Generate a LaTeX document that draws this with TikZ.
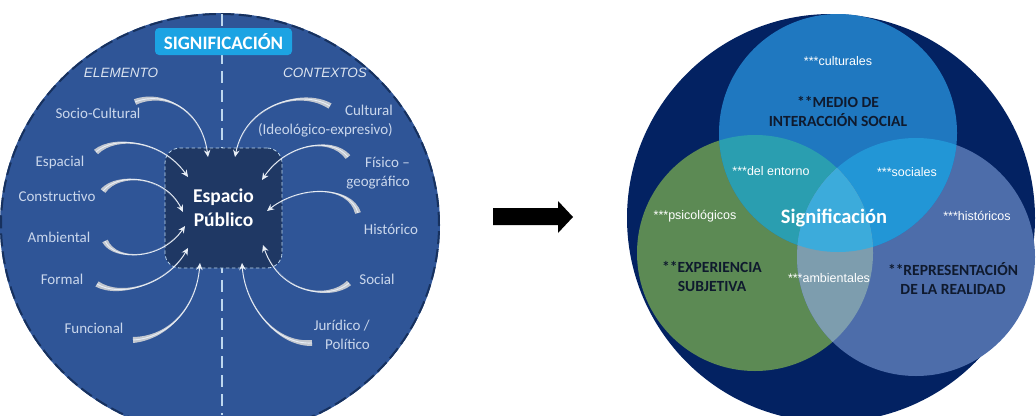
\documentclass[tikz,border=0pt]{standalone}
\usepackage{fontspec}
\setmainfont{Carlito}
\newfontfamily\arialfont{Liberation Sans}
\usetikzlibrary{calc,arrows.meta}

% palette
\definecolor{panelblue}{HTML}{2F5597}
\definecolor{rimnavy}{HTML}{17315E}
\definecolor{boxnavy}{HTML}{1F3864}
\definecolor{dividerblue}{HTML}{BDD7EE}
\definecolor{sigblue}{HTML}{1CA3E3}
\definecolor{labelgrey}{HTML}{CAD7EC}
\definecolor{headgrey}{HTML}{DCE4F0}
\definecolor{bodygrey}{HTML}{C3C8D0}
\definecolor{tipwhite}{HTML}{E8EEF6}
\definecolor{vnavy}{HTML}{032262}
\definecolor{vtop}{HTML}{1F78C0}
\definecolor{vgreen}{HTML}{5C8A54}
\definecolor{vright}{HTML}{4D6DAA}
\definecolor{vtopgreen}{HTML}{2A9EB0}
\definecolor{vtopright}{HTML}{2296D6}
\definecolor{vgreenright}{HTML}{7D9DAE}
\definecolor{vall}{HTML}{3CABDB}
\definecolor{darktext}{HTML}{0F1A2E}

% tapered curved arrow: start, control 1, control 2, end
\newcommand\taperarrow[4]{%
  \fill[arrowbody] ($(#1)!3pt!90:(#2)$)
     .. controls ($(#2)!1.4pt!-90:(#1)$) and (#3) .. (#4)
     .. controls (#3) and ($(#2)!1.4pt!90:(#1)$) .. ($(#1)!3pt!-90:(#2)$) -- cycle;
  \draw[arrowline] (#1) .. controls (#2) and (#3) .. (#4);
}

\begin{document}
\begin{tikzpicture}[x=1pt,y=-1pt,
  lbl/.style={text=labelgrey,font=\fontsize{15}{18.5}\selectfont,inner sep=0pt},
  head/.style={text=headgrey,font=\arialfont\itshape\fontsize{13.5}{16}\selectfont,inner sep=0pt},
  arrowbody/.style={fill=bodygrey},
  arrowline/.style={draw=tipwhite,line width=0.9pt,-{Stealth[length=7pt,width=6.5pt]}},
  small/.style={text=white,font=\arialfont\fontsize{12.5}{14}\selectfont,inner sep=0pt},
  bigcap/.style={text=darktext,font=\bfseries\fontsize{15.5}{19}\selectfont,align=center,inner sep=0pt},
]
\useasboundingbox (0,0) rectangle (1036,415);
\clip (0,0) rectangle (1036,415);

% ---------- left panel ----------
\fill[panelblue] (220,225) ellipse [x radius=220pt, y radius=212pt];
\draw[rimnavy,line width=2pt,dash pattern=on 13pt off 5pt] (220,225) ellipse [x radius=219pt, y radius=211pt];
\draw[dividerblue,line width=2.2pt,dash pattern=on 12pt off 7pt] (222,14) -- (222,415);

\node[fill=sigblue,rounded corners=4pt,minimum width=137pt,minimum height=27pt,inner sep=0pt,
      text=white,font=\bfseries\fontsize{19}{20}\selectfont] (sig) at (223.5,41.5) {SIGNIFICACIÓN};
\node[head] (elem) at (121,73) {ELEMENTO};
\node[head] (ctx) at (325,73) {CONTEXTOS};

\node[fill=boxnavy,draw=dividerblue,line width=0.8pt,dash pattern=on 3.5pt off 2.5pt,
      rounded corners=15pt,minimum width=117pt,minimum height=120pt,inner sep=0pt,
      text=white,align=center,font=\bfseries\fontsize{19.5}{24}\selectfont] (ep) at (223.5,208) {Espacio\\Público};

% element labels
\node[lbl] (socio) at (98,113) {Socio-Cultural};
\node[lbl] (espa) at (60,162) {Espacial};
\node[lbl] (constr) at (57,196) {Constructivo};
\node[lbl] (amb) at (59,237) {Ambiental};
\node[lbl] (form) at (62,279) {Formal};
\node[lbl] (func) at (94,328) {Funcional};
% context labels
\node[lbl,anchor=east,align=right] (cult) at (393,121) {Cultural\\(Ideológico-expresivo)};
\node[lbl,anchor=east,align=right] (fis) at (410,173) {Físico –\\geográfico};
\node[lbl] (hist) at (391,229) {Histórico};
\node[lbl] (soc) at (377,279) {Social};
\node[lbl,anchor=east,align=right] (jur) at (370,335) {Jurídico /\\Político};

% arrow start points (beside the labels) and tips (inside the box)
\coordinate (s1) at (135,102);  \coordinate (e1) at (208,157);
\coordinate (s2) at (96,152);   \coordinate (e2) at (188,177);
\coordinate (s3) at (103,191);  \coordinate (e3) at (183,212);
\coordinate (s4) at (105,241);  \coordinate (e4) at (185,226);
\coordinate (s5) at (97,284);   \coordinate (e5) at (188,248);
\coordinate (s6) at (133,340);  \coordinate (e6) at (200,263);
\coordinate (s7) at (330,106);  \coordinate (e7) at (235,157);
\coordinate (s8) at (348,157);  \coordinate (e8) at (262,180);
\coordinate (s9) at (358,213);  \coordinate (e9) at (267,211);
\coordinate (s10) at (349,283); \coordinate (e10) at (263,245);
\coordinate (s11) at (312,343); \coordinate (e11) at (242,263);

\taperarrow{s1}{165,90}{202,110}{e1}
\taperarrow{s2}{115,135}{162,140}{e2}
\taperarrow{s3}{118,172}{165,175}{e3}
\taperarrow{s4}{115,262}{162,260}{e4}
\taperarrow{s5}{120,298}{167,285}{e5}
\taperarrow{s6}{167,338}{196,310}{e6}
\taperarrow{s7}{300,88}{245,105}{e7}
\taperarrow{s8}{330,135}{285,145}{e8}
\taperarrow{s9}{350,185}{300,185}{e9}
\taperarrow{s10}{330,300}{280,295}{e10}
\taperarrow{s11}{275,345}{245,305}{e11}

% ---------- link arrow ----------
\fill[black] (493,208) -- (558,208) -- (558,201) -- (573,217) -- (558,233) -- (558,225) -- (493,225) -- cycle;

% ---------- right panel ----------
\fill[vnavy] (831,218) circle [radius=204pt];
\fill[vgreen] (755,253) circle [radius=118pt];
\fill[vright] (916,257) circle [radius=119pt];
\fill[vtop] (838,133) circle [radius=119pt];
\begin{scope}
  \clip (838,133) circle [radius=119pt];
  \fill[vtopgreen] (755,253) circle [radius=118pt];
  \fill[vtopright] (916,257) circle [radius=119pt];
\end{scope}
\begin{scope}
  \clip (755,253) circle [radius=118pt];
  \fill[vgreenright] (916,257) circle [radius=119pt];
  \clip (838,133) circle [radius=119pt];
  \fill[vall] (916,257) circle [radius=119pt];
\end{scope}

\node[small] (tcult) at (838,61) {***culturales};
\node[bigcap] (medio) at (838,112) {**MEDIO DE\\INTERACCIÓN SOCIAL};
\node[small] (tent) at (771,171) {***del entorno};
\node[small] (tsoc) at (907,172) {***sociales};
\node[small] (tpsi) at (695,216) {***psicológicos};
\node[text=white,font=\bfseries\fontsize{20.5}{22}\selectfont,inner sep=0pt] (signif) at (834,218) {Significación};
\node[small] (this) at (977,216) {***históricos};
\node[bigcap] (exp) at (712,277) {**EXPERIENCIA\\SUBJETIVA};
\node[small] (tamb) at (829,278) {***ambientales};
\node[bigcap] (rep) at (953,278) {**REPRESENTACIÓN\\DE LA REALIDAD};
\end{tikzpicture}
\end{document}
